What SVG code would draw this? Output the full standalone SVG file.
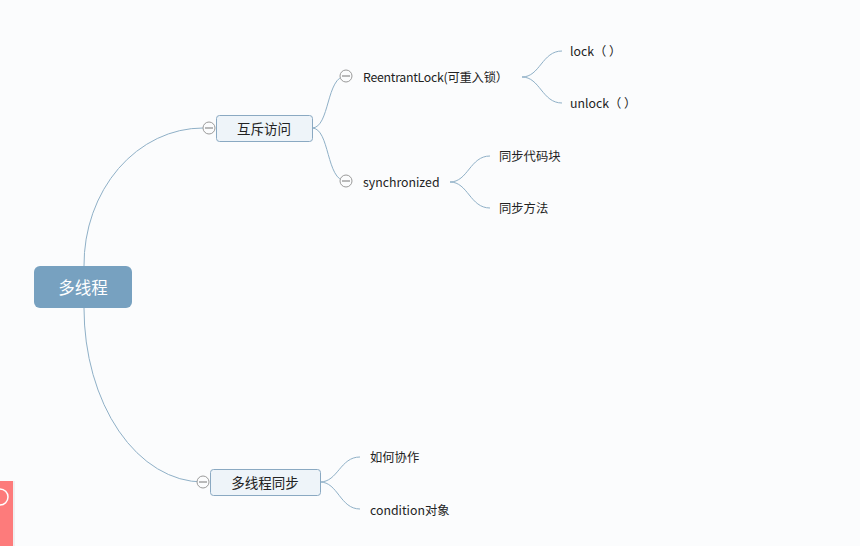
<svg xmlns="http://www.w3.org/2000/svg" width="860" height="546" viewBox="0 0 860 546">
<style>
.c{fill:none;stroke:#8fb0c7;stroke-width:1}
.t{font-family:"Microsoft YaHei","Noto Sans CJK SC","Liberation Sans",sans-serif;font-size:12.3px;fill:#222}
.tm{font-family:"Microsoft YaHei","Noto Sans CJK SC","Liberation Sans",sans-serif;font-size:13.5px;fill:#222;text-anchor:middle}
.box{fill:#eef4f9;stroke:#8aa9c2;stroke-width:1}
.col{fill:#fbfcfd;stroke:#9a9a9a;stroke-width:1}
.ln{stroke:#777;stroke-width:1}
</style>
<rect width="860" height="546" fill="#fbfcfd"/>
<g id="connectors">
<path class="c" d="M84,266 A119,137 0 0 1 203,128"/>
<path class="c" d="M84,308 A119,174 0 0 0 203,482"/>
<path class="c" d="M312,128 C330,128 326,76 346,76"/>
<path class="c" d="M312,128 C330,128 326,181 346,181"/>
<path class="c" d="M522,77 C540,77 542,51 562,51"/>
<path class="c" d="M522,77 C540,77 542,103 562,103"/>
<path class="c" d="M450,182 C468,182 470,156 490,156"/>
<path class="c" d="M450,182 C468,182 470,208 490,208"/>
<path class="c" d="M320,482 C338,482 340,457 360,457"/>
<path class="c" d="M320,482 C338,482 340,509 360,509"/>
</g>
<g id="root">
<rect x="34" y="266" width="98" height="42" rx="6" fill="#77a1c0"/>
<text x="83" y="294" text-anchor="middle" font-family="Microsoft YaHei,Noto Sans CJK SC,Liberation Sans,sans-serif" font-size="16.5" fill="#fff">多线程</text>
</g>
<g id="n-huchi">
<rect class="box" x="216.5" y="115.5" width="96" height="26" rx="3"/>
<text class="tm" x="264" y="134">互斥访问</text>
<circle class="col" cx="209" cy="128" r="6"/>
<line class="ln" x1="205" y1="128" x2="213" y2="128"/>
</g>
<g id="n-sync">
<rect class="box" x="210.5" y="469.5" width="110" height="26" rx="3"/>
<text class="tm" x="265" y="488">多线程同步</text>
<circle class="col" cx="203" cy="482" r="6"/>
<line class="ln" x1="199" y1="482" x2="207" y2="482"/>
</g>
<g id="n-reentrant">
<circle class="col" cx="346" cy="76" r="6"/>
<line class="ln" x1="342" y1="76" x2="350" y2="76"/>
<text class="t" x="363" y="82" textLength="145" lengthAdjust="spacing">ReentrantLock(可重入锁）</text>
</g>
<g id="n-synchronized">
<circle class="col" cx="346" cy="181" r="6"/>
<line class="ln" x1="342" y1="181" x2="350" y2="181"/>
<text class="t" x="363" y="187">synchronized</text>
</g>
<g id="n-lock"><text class="t" x="570" y="56">lock（ ）</text></g>
<g id="n-unlock"><text class="t" x="570" y="108">unlock（ ）</text></g>
<g id="n-block"><text class="t" x="499" y="161">同步代码块</text></g>
<g id="n-method"><text class="t" x="499" y="213">同步方法</text></g>
<g id="n-coop"><text class="t" x="370" y="462">如何协作</text></g>
<g id="n-cond"><text class="t" x="370" y="515">condition对象</text></g>
<g id="widget">
<rect x="0" y="481" width="15" height="65" fill="#e8e8e8" opacity="0.6"/>
<rect x="0" y="481" width="13" height="65" fill="#fd7b7b"/>
<path d="M0,489 A8,8 0 0 1 0,505" fill="none" stroke="#fff" stroke-width="1.5"/>
</g>
</svg>
